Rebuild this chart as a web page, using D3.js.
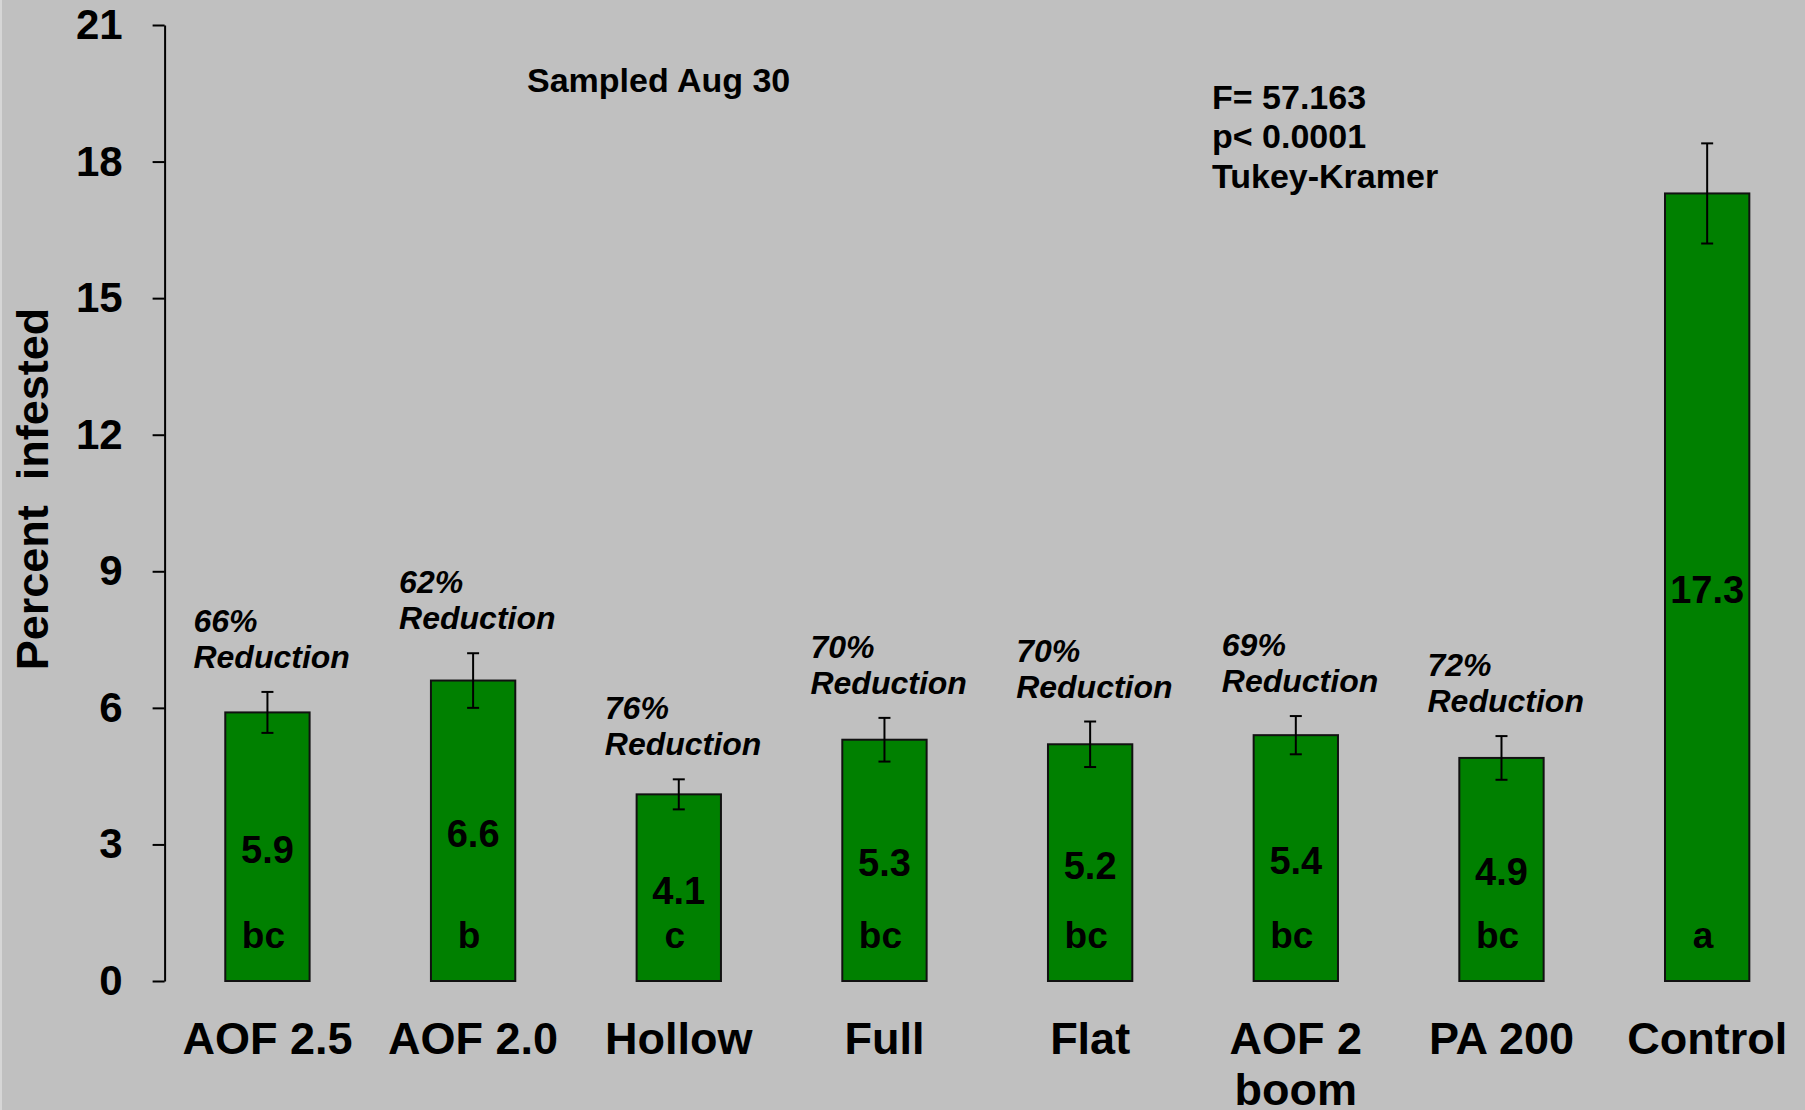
<!DOCTYPE html>
<html>
<head>
<meta charset="utf-8">
<script src="https://cdn.jsdelivr.net/npm/d3@7"></script>
<style>
  html, body { margin: 0; padding: 0; background: #c0c0c0; }
  svg { display: block; }
  text { font-family: "Liberation Sans", Arial, sans-serif; font-weight: bold; fill: #000; }
</style>
</head>
<body>
<svg id="chart" width="1805" height="1110"></svg>
<script>
// Treatments (a "\n" splits a category label over two lines)
const categories = ["AOF 2.5", "AOF 2.0", "Hollow", "Full", "Flat", "AOF 2\nboom", "PA 200", "Control"];
// Mean percent infested per treatment
const percentInfested = [5.9, 6.6, 4.1, 5.3, 5.2, 5.4, 4.9, 17.3];
// Standard error of each mean
const stdErr = [0.45, 0.6, 0.33, 0.48, 0.5, 0.42, 0.48, 1.1];
// Tukey-Kramer grouping letters
const groupLetters = ["bc", "b", "c", "bc", "bc", "bc", "bc", "a"];
// Reduction relative to the untreated control (none for the control itself)
const reductionPct = [66, 62, 76, 70, 70, 69, 72, null];
// Y axis ticks
const yTicks = [0, 3, 6, 9, 12, 15, 18, 21];
// Annotations
const sampleNote = "Sampled Aug 30";
const statLines = ["F= 57.163", "p< 0.0001", "Tukey-Kramer"];
const yTitle = "Percent\u00a0\u00a0infested";

const svg = d3.select("#chart");
const W = 1805, H = 1110;

svg.append("rect").attr("width", W).attr("height", H).attr("fill", "#c0c0c0");
svg.append("rect").attr("width", 2).attr("height", H).attr("fill", "#d6d6d6");

const x = d3.scaleBand()
  .domain(categories)
  .range([164.6, 1810])
  .paddingInner(0.59)
  .paddingOuter(0.295);

const y = d3.scaleLinear().domain([0, 21]).range([981, 25]);

// Y axis
const yAxis = svg.append("g")
  .attr("transform", "translate(164.6,0)")
  .call(d3.axisLeft(y).tickValues(yTicks).tickSize(12).tickSizeOuter(0).tickPadding(30));
yAxis.select(".domain").attr("stroke", "#000").attr("stroke-width", 2);
yAxis.selectAll(".tick line").attr("stroke", "#000").attr("stroke-width", 2);
yAxis.selectAll(".tick text")
  .attr("font-size", 42)
  .attr("font-family", "'Liberation Sans', Arial, sans-serif")
  .attr("font-weight", "bold")
  .attr("fill", "#000");

// Y axis title
svg.append("text")
  .attr("transform", "translate(48,489) rotate(-90)")
  .attr("text-anchor", "middle")
  .attr("font-size", 45)
  .text(yTitle);

const data = categories.map((c, i) => ({
  cat: c, v: percentInfested[i], se: stdErr[i], letter: groupLetters[i], red: reductionPct[i]
}));

const cx = d => x(d.cat) + x.bandwidth() / 2;

// Bars
svg.append("g").selectAll("rect")
  .data(data).join("rect")
  .attr("x", d => x(d.cat))
  .attr("y", d => y(d.v))
  .attr("width", x.bandwidth())
  .attr("height", d => y(0) - y(d.v))
  .attr("fill", "#008000")
  .attr("stroke", "#111")
  .attr("stroke-width", 2);

// Error bars
const eb = svg.append("g").attr("stroke", "#000").attr("stroke-width", 2);
data.forEach(d => {
  const top = y(d.v + d.se), bot = y(d.v - d.se), c = cx(d);
  eb.append("line").attr("x1", c).attr("x2", c).attr("y1", top).attr("y2", bot);
  eb.append("line").attr("x1", c - 6).attr("x2", c + 6).attr("y1", top).attr("y2", top);
  eb.append("line").attr("x1", c - 6).attr("x2", c + 6).attr("y1", bot).attr("y2", bot);
});

// Mean labels, centred in each bar
svg.append("g").selectAll("text")
  .data(data).join("text")
  .attr("x", cx)
  .attr("y", d => (y(d.v) + y(0)) / 2 + 3)
  .attr("dominant-baseline", "central")
  .attr("text-anchor", "middle")
  .attr("font-size", 38)
  .text(d => d.v.toFixed(1));

// Grouping letters near the base of each bar
svg.append("g").selectAll("text")
  .data(data).join("text")
  .attr("x", d => cx(d) - 4)
  .attr("y", y(0) - 33)
  .attr("text-anchor", "middle")
  .attr("font-family", "Lato, 'Open Sans', sans-serif")
  .attr("font-size", 37)
  .text(d => d.letter);

// Reduction annotations above the error bars
const redG = svg.append("g").attr("font-style", "italic").attr("font-size", 32);
data.filter(d => d.red !== null).forEach(d => {
  const base = y(d.v + d.se) - 24;
  const left = cx(d) - 74;
  redG.append("text").attr("x", left).attr("y", base - 36).text(d.red + "%");
  redG.append("text").attr("x", left).attr("y", base).text("Reduction");
});

// Category labels
const catG = svg.append("g").attr("font-size", 45).attr("text-anchor", "middle");
data.forEach(d => {
  const t = catG.append("text").attr("x", cx(d)).attr("y", 1054);
  d.cat.split("\n").forEach((line, k) => {
    t.append("tspan").attr("x", cx(d)).attr("dy", k === 0 ? 0 : 51).text(line);
  });
});

// Sampling date
svg.append("text")
  .attr("x", 527).attr("y", 92)
  .attr("font-size", 34)
  .text(sampleNote);

// ANOVA summary
svg.append("g")
  .attr("font-size", 34)
  .selectAll("text")
  .data(statLines).join("text")
  .attr("x", 1212)
  .attr("y", (d, i) => 109 + i * 39.3)
  .text(d => d);
</script>
</body>
</html>
